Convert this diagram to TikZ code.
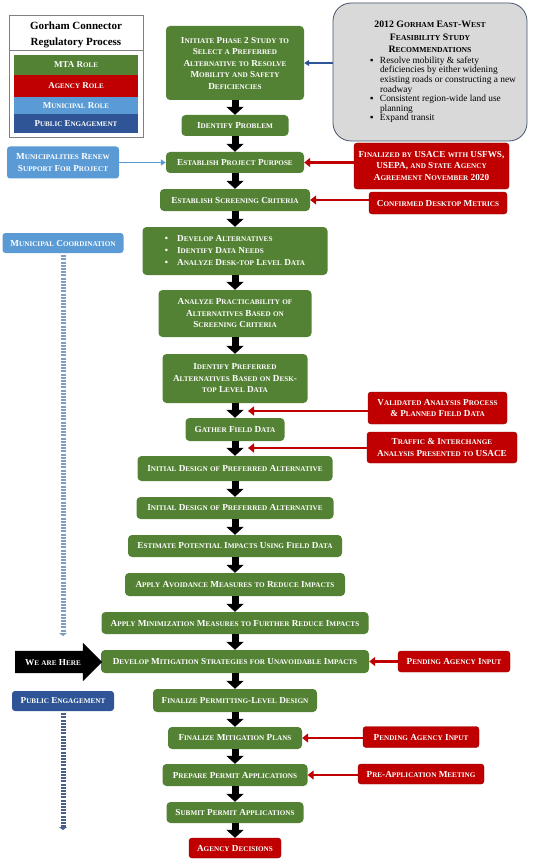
\documentclass[tikz,border=0pt]{standalone}
\usepackage{fontspec}
\setmainfont{Liberation Serif}
\usepackage{tikz}
\usetikzlibrary{arrows.meta, shapes.arrows}
\definecolor{mtagreen}{RGB}{84, 130, 53}
\definecolor{agencyred}{RGB}{192, 0, 0}
\definecolor{muniblue}{RGB}{91, 155, 213}
\definecolor{publicblue}{RGB}{47, 85, 151}
\definecolor{recgray}{RGB}{217, 217, 217}
\definecolor{recedge}{RGB}{68, 84, 106}
\definecolor{stripemuni}{RGB}{125, 155, 195}
\definecolor{stripepublic}{RGB}{70, 95, 140}

% fake small caps: lower case letters become smaller capitals
\ExplSyntaxOn
\cs_new_protected:Npn \gc_small:
  { \fontsize { \fp_eval:n { 0.78 * \use:c { f@size } } } { 8 } \selectfont }
\cs_new_protected:Npn \gc_sc_char:n #1
  {
    \str_if_eq:eeTF {#1} { \str_uppercase:n {#1} }
      {#1}
      { { \gc_small: \str_uppercase:n {#1} } }
  }
\cs_new_protected:Npn \gc_sc_line:n #1
  { \str_map_function:nN {#1} \gc_sc_char:n }
\NewDocumentCommand \sct { m }
  {
    \seq_set_split:Nnn \l_tmpa_seq { \\ } {#1}
    \seq_clear:N \l_tmpb_seq
    \seq_map_inline:Nn \l_tmpa_seq
      { \seq_put_right:Nn \l_tmpb_seq { \gc_sc_line:n {##1} } }
    \seq_use:Nn \l_tmpb_seq { \\ }
  }
\ExplSyntaxOff
\newcommand\scfont{\bfseries\fontsize{9.2}{11.5}\selectfont}
\newcommand\keyfont{\bfseries\fontsize{9}{10}\selectfont}
\newcommand\gcitem{\par\noindent\hangindent=10pt\hangafter=1\makebox[10pt][l]{▪}}

\begin{document}
\begin{tikzpicture}[x=1pt, y=-1pt,
    stage/.style={rectangle, rounded corners=4pt, fill=mtagreen, text=white,
        align=center, inner sep=2pt, font=\scfont},
    agency/.style={rectangle, rounded corners=3pt, fill=agencyred,
        draw=agencyred!75!black, text=white, align=center, inner sep=2pt, font=\scfont},
    muni/.style={rectangle, rounded corners=3pt, fill=#1, text=white,
        align=center, inner sep=2pt, font=\scfont},
    legendkey/.style={rectangle, fill=#1, text=white, minimum width=124,
        inner sep=0pt, font=\keyfont},
    recbox/.style={rectangle, rounded corners=18pt, fill=recgray, draw=recedge,
        line width=0.8pt, align=center, font=\bfseries\fontsize{9.8}{12.5}\selectfont},
    here/.style={single arrow, fill=black, text=white, single arrow head extend=8pt,
        minimum height=87, text height=6pt, text depth=0pt, inner ysep=8pt,
        inner xsep=2pt, font=\scfont},
    flow/.style={-{Triangle[length=8pt, width=17pt]}, line width=7pt},
    feed/.style={-{Triangle[length=6pt, width=9pt]}, line width=2.5pt, agencyred},
    thin/.style={-{Triangle[length=5pt, width=6pt]}, line width=1.5pt, #1},
    stripe/.style={line width=5pt, dash pattern=on 2pt off 1.2pt, #1,
        shorten <=2pt, -{Triangle[length=3pt, width=8pt]}}
]
\useasboundingbox (0,0) rectangle (536,861);

% Legend
\draw[gray, line width=0.8pt] (9,15) rectangle (143,137);
\node[font=\bfseries\fontsize{11}{16}\selectfont, align=center] (ltitle) at (76,35)
    {Gorham Connector\\Regulatory Process};
\draw[gray, line width=0.8pt] (9,50.7) -- (143,50.7);
\node[legendkey=mtagreen, minimum height=20] (k1) at (76,65) {\sct{MTA Role}};
\node[legendkey=agencyred, minimum height=22] (k2) at (76,86) {\sct{Agency Role}};
\node[legendkey=muniblue, minimum height=17] (k3) at (76,105.5) {\sct{Municipal Role}};
\node[legendkey=publicblue, minimum height=19] (k4) at (76,123.5) {\sct{Public Engagement}};

% Study recommendations
\node[recbox, minimum width=194, minimum height=138] (rec) at (430,72)
    {\sct{2012 Gorham East-West\\Feasibility Study\\Recommendations}\\[3pt]
     \hspace*{30pt}\parbox{150pt}{\normalfont\fontsize{9.4}{9.6}\selectfont\raggedright
        \gcitem Resolve mobility \& safety\newline deficiencies by either widening\newline existing roads or constructing a new\newline roadway
        \gcitem Consistent region-wide land use\newline planning
        \gcitem Expand transit}};

% Process steps (top to bottom)
\node[stage, minimum width=138, minimum height=74] (s1) at (235,63)
    {\sct{Initiate Phase 2 Study to\\Select a Preferred\\Alternative to Resolve\\Mobility and Safety\\Deficiencies}};
\node[stage, minimum width=107, minimum height=21] (s2) at (235,125.5) {\sct{Identify Problem}};
\node[stage, minimum width=138, minimum height=21] (s3) at (235,162.5) {\sct{Establish Project Purpose}};
\node[stage, minimum width=150, minimum height=22] (s4) at (235,200) {\sct{Establish Screening Criteria}};
\node[stage, minimum width=185, minimum height=48] (s5) at (235,251)
    {\renewcommand\arraystretch{1.08}%
     \begin{tabular}{@{}l@{\hspace{9pt}}l@{}}
     \textbullet & \sct{Develop Alternatives}\\
     \textbullet & \sct{Identify Data Needs}\\
     \textbullet & \sct{Analyze Desk-top Level Data}
     \end{tabular}};
\node[stage, minimum width=153, minimum height=47] (s6) at (235,313.5)
    {\sct{Analyze Practicability of\\Alternatives Based on\\Screening Criteria}};
\node[stage, minimum width=145, minimum height=49] (s7) at (235,378.5)
    {\sct{Identify Preferred\\Alternatives Based on Desk-\\top Level Data}};
\node[stage, minimum width=99, minimum height=23] (s8) at (235,429.5) {\sct{Gather Field Data}};
\node[stage, minimum width=195, minimum height=25] (s9) at (235,468.5) {\sct{Initial Design of Preferred Alternative}};
\node[stage, minimum width=197, minimum height=22] (s10) at (235,508) {\sct{Initial Design of Preferred Alternative}};
\node[stage, minimum width=214, minimum height=22] (s11) at (235,546) {\sct{Estimate Potential Impacts Using Field Data}};
\node[stage, minimum width=220, minimum height=23] (s12) at (235,584.5) {\sct{Apply Avoidance Measures to Reduce Impacts}};
\node[stage, minimum width=267, minimum height=22] (s13) at (235,623) {\sct{Apply Minimization Measures to Further Reduce Impacts}};
\node[stage, minimum width=268, minimum height=23] (s14) at (235,661.5) {\sct{Develop Mitigation Strategies for Unavoidable Impacts}};
\node[stage, minimum width=164, minimum height=23] (s15) at (235,700.5) {\sct{Finalize Permitting-Level Design}};
\node[stage, minimum width=134, minimum height=22] (s16) at (235,738) {\sct{Finalize Mitigation Plans}};
\node[stage, minimum width=145, minimum height=22] (s17) at (235,775) {\sct{Prepare Permit Applications}};
\node[stage, minimum width=137, minimum height=21] (s18) at (235,812.5) {\sct{Submit Permit Applications}};
\node[agency, minimum width=92, minimum height=20] (s19) at (235,848) {\sct{Agency Decisions}};

\draw[flow] (s1) -- (s2);
\draw[flow] (s2) -- (s3);
\draw[flow] (s3) -- (s4);
\draw[flow] (s4) -- (s5);
\draw[flow] (s5) -- (s6);
\draw[flow] (s6) -- (s7);
\draw[flow] (s7) -- (s8);
\draw[flow] (s8) -- (s9);
\draw[flow] (s9) -- (s10);
\draw[flow] (s10) -- (s11);
\draw[flow] (s11) -- (s12);
\draw[flow] (s12) -- (s13);
\draw[flow] (s13) -- (s14);
\draw[flow] (s14) -- (s15);
\draw[flow] (s15) -- (s16);
\draw[flow] (s16) -- (s17);
\draw[flow] (s17) -- (s18);
\draw[flow] (s18) -- (s19);

% Agency input on the right
\node[agency, minimum width=155, minimum height=46] (r1) at (431.5,166)
    {\sct{Finalized by USACE with USFWS,\\USEPA, and State Agency\\Agreement November 2020}};
\node[agency, minimum width=138, minimum height=22] (r2) at (438,203) {\sct{Confirmed Desktop Metrics}};
\node[agency, minimum width=139, minimum height=32] (r3) at (437.5,408)
    {\sct{Validated Analysis Process\\& Planned Field Data}};
\node[agency, minimum width=150, minimum height=31] (r4) at (442,447.5)
    {\sct{Traffic & Interchange\\Analysis Presented to USACE}};
\node[agency, minimum width=112, minimum height=21] (r5) at (454,661.5) {\sct{Pending Agency Input}};
\node[agency, minimum width=116, minimum height=21] (r6) at (421,737) {\sct{Pending Agency Input}};
\node[agency, minimum width=126, minimum height=20] (r7) at (421,774) {\sct{Pre-Application Meeting}};
\coordinate (c1) at (248,411);
\coordinate (c2) at (248,448);

\draw[feed] (r1.west |- s3.east) -- (s3.east);
\draw[feed] (r2.west |- s4.east) -- (s4.east);
\draw[feed] (r3.west |- c1) -- (c1);
\draw[feed] (r4.west |- c2) -- (c2);
\draw[feed] (r5) -- (s14);
\draw[feed] (r6.west |- s16.east) -- (s16.east);
\draw[feed] (r7.west |- s17.east) -- (s17.east);
\draw[thin=publicblue] (rec.west |- s1.east) -- (s1.east);

% Municipal and public side
\node[muni=muniblue, minimum width=112, minimum height=32] (m1) at (63,162.5)
    {\sct{Municipalities Renew\\Support For Project}};
\node[muni=muniblue, minimum width=121, minimum height=20] (m2) at (63,243) {\sct{Municipal Coordination}};
\node[muni=publicblue, minimum width=102, minimum height=20] (p1) at (63,701) {\sct{Public Engagement}};
\coordinate (mend) at (63,636);
\coordinate (pend) at (63,830);
\draw[thin=muniblue] (m1) -- (s3);
\draw[stripe=stripemuni] (m2.south) -- (mend);
\draw[stripe=stripepublic] (p1.south) -- (pend);

\node[here] (here) at (53,662) {\sct{We are Here}};

\end{tikzpicture}
\end{document}
